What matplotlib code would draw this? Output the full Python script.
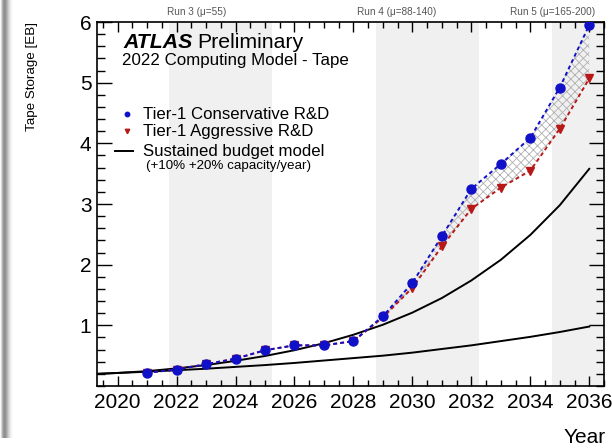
import numpy as np
import matplotlib.pyplot as plt
from matplotlib.ticker import MultipleLocator

plt.rcParams['font.family'] = ['Liberation Sans', 'DejaVu Sans']
plt.rcParams['hatch.linewidth'] = 0.6

# Tape storage projections [EB]
years = [2021, 2022, 2023, 2024, 2025, 2026, 2027, 2028,
         2029, 2030, 2031, 2032, 2033, 2034, 2035, 2036]
conservative = [0.22, 0.27, 0.36, 0.45, 0.59, 0.67, 0.67, 0.74,
                1.15, 1.70, 2.47, 3.25, 3.66, 4.09, 4.92, 5.95]
aggressive = [0.22, 0.27, 0.36, 0.45, 0.59, 0.67, 0.67, 0.74,
              1.13, 1.62, 2.30, 2.92, 3.27, 3.55, 4.24, 5.07]

# Sustained budget model curves
budget_years = [2019.3, 2020, 2021, 2022, 2023, 2024, 2025, 2026, 2027,
                2028, 2029, 2030, 2031, 2032, 2033, 2034, 2035, 2036]
budget_20 = [0.20, 0.215, 0.245, 0.29, 0.345, 0.415, 0.495, 0.59, 0.705,
             0.845, 1.01, 1.21, 1.45, 1.74, 2.08, 2.49, 2.98, 3.58]
budget_10 = [0.20, 0.215, 0.235, 0.26, 0.285, 0.315, 0.345, 0.38, 0.42,
             0.46, 0.50, 0.55, 0.61, 0.67, 0.74, 0.81, 0.89, 0.98]

# LHC runs: shaded span and label
runs = [("Run 3 (\u03bc=55)", 2021.75, 2025.25, 2022.69),
        ("Run 4 (\u03bc=88-140)", 2028.75, 2032.25, 2029.48),
        ("Run 5 (\u03bc=165-200)", 2034.75, 2036.6, 2034.75)]

blue = '#1010c8'
red = '#b81818'

fig = plt.figure(figsize=(6.12, 4.48), dpi=100)

# shadow strip on the left border
strip = fig.add_axes([0, 10 / 448, 14 / 612, 438 / 448])
profile = np.array([0.97, 0.85, 0.7, 0.6, 0.56, 0.58, 0.64, 0.72, 0.8, 0.87, 0.92, 0.96, 0.98, 1.0])
strip.imshow(np.tile(profile, (50, 1)), cmap='gray', vmin=0, vmax=1,
             aspect='auto', interpolation='bilinear')
strip.axis('off')

ax = fig.add_axes([97 / 612, 62 / 448, 507 / 612, 364 / 448])
ax.set_xlim(2019.3, 2036.5)
ax.set_ylim(0, 6)

for label, x0, x1, xl in runs:
    ax.axvspan(x0, x1, color='#f0f0f0', lw=0, zorder=0)
    ax.text(xl, 1.027, label, transform=ax.get_xaxis_transform(),
            ha='center', va='center', fontsize=7.2, color='#555555')

ax.fill_between(years, aggressive, conservative, facecolor='none',
                edgecolor='#b0b0b0', hatch='xxxx', lw=0, zorder=1)

ax.plot(budget_years, budget_20, color='black', lw=1.4, zorder=2)
ax.plot(budget_years, budget_10, color='black', lw=1.4, zorder=2)

ax.plot(years, aggressive, color=red, lw=1.4, ls=(0, (2, 1.6)),
        marker='v', ms=6, zorder=3)
ax.plot(years, conservative, color=blue, lw=1.4, ls=(0, (2, 1.6)),
        marker='o', ms=6.5, zorder=4)

# ticks on all four sides, pointing inward
ax.set_yticks([1, 2, 3, 4, 5, 6])
ax.yaxis.set_minor_locator(MultipleLocator(0.2))
ax.set_xticks(range(2020, 2037, 2))
ax.xaxis.set_minor_locator(MultipleLocator(0.5))
ax.tick_params(axis='both', which='both', direction='in', top=True, right=True,
               width=1.0, labelsize=15)
ax.tick_params(axis='y', which='major', length=11, pad=4)
ax.tick_params(axis='y', which='minor', length=5.5)
ax.tick_params(axis='x', which='major', length=7.5, pad=5)
ax.tick_params(axis='x', which='minor', length=4)
for s in ax.spines.values():
    s.set_linewidth(1.2)

ax.set_ylabel('Tape Storage [EB]', fontsize=9.6, loc='top', labelpad=30)
fig.text(606 / 612, 1 - 437 / 448, 'Year', ha='right', va='center', fontsize=15)

# plot header
ax.text(0.0513, 0.945, 'ATLAS', transform=ax.transAxes, fontsize=15.3,
        fontweight='bold', fontstyle='italic', va='center')
ax.text(0.198, 0.945, 'Preliminary', transform=ax.transAxes, fontsize=15.3,
        va='center')
ax.text(0.049, 0.893, '2022 Computing Model - Tape', transform=ax.transAxes,
        fontsize=12.2, va='center')

# legend
rows = [0.747, 0.7005, 0.6456]
ax.plot([0.0592], [rows[0]], 'o', color=blue, ms=3.2, transform=ax.transAxes, clip_on=False)
ax.plot([0.0592], [rows[1]], 'v', color=red, ms=3.2, transform=ax.transAxes, clip_on=False)
ax.plot([0.0355, 0.071], [rows[2], rows[2]], color='black', lw=1.4,
        transform=ax.transAxes, clip_on=False)
for y, txt in zip(rows, ['Tier-1 Conservative R&D', 'Tier-1 Aggressive R&D',
                         'Sustained budget model']):
    ax.text(0.0907, y, txt, transform=ax.transAxes, fontsize=12.1, va='center')
ax.text(0.0966, 0.604, '(+10% +20% capacity/year)', transform=ax.transAxes,
        fontsize=9.6, va='center')

fig.savefig('out.png', dpi=100)
